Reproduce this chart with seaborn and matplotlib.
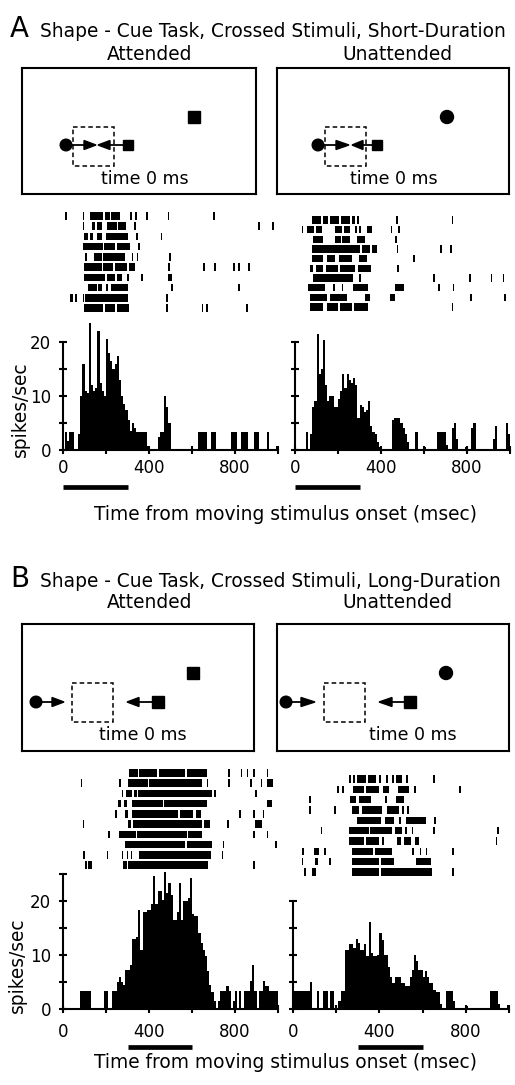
import numpy as np
import pandas as pd
import matplotlib
matplotlib.use("Agg")
import matplotlib.pyplot as plt
import seaborn as sns
from matplotlib.patches import Rectangle, Circle, Polygon

# ---------------- DATA ----------------
BIN_MS = 10
# PSTH rates (spikes/sec) per 10 ms bin, 0..1000 ms
A_att_rate = [0, 3.3, 1.7, 3.3, 3.3, 0, 0, 3, 10, 16,
              11, 10.5, 23.5, 12, 11, 11.5, 22, 12.5, 11, 10,
              20.5, 18, 16.5, 15, 16, 17.5, 13, 10, 8.5, 7.5,
              5.5, 3.6, 5, 4, 3.3, 3.3, 3.3, 3.3, 3.3, 0.8,
              0, 0, 0, 0, 2.5, 3.3, 3.3, 10, 8, 5,
              0, 0, 0, 0, 0, 0, 0, 0, 0, 0,
              0, 0, 0, 3.3, 3.3, 3.3, 3.3, 0, 0, 3.3,
              3.3, 0, 0, 0, 0, 0, 0, 0, 3.3, 3.3,
              3.3, 0, 0, 3.3, 3.3, 3.3, 0, 0, 0, 3.3,
              3.3, 0, 0, 0, 0, 3.3, 0, 0, 0, 0.8]
A_unatt_rate = [0, 0, 0, 0, 0, 3.3, 0, 3, 8, 9,
                21.5, 14, 15, 20.3, 12, 9, 10, 10, 8, 8,
                9.5, 11, 14, 11.5, 14, 13, 12.4, 13.3, 12, 6,
                8.3, 8, 7, 7.5, 9, 4.5, 3.3, 3, 1.5, 0.5,
                0, 0, 0, 0, 0, 5.5, 6, 6, 6, 5,
                4, 3, 1.5, 0, 0, 0, 3.3, 0, 0, 0,
                0.6, 0, 0, 0, 0, 0, 3.3, 3.3, 3.3, 3.3,
                1, 0, 0, 4, 5, 2, 0, 0, 0, 0.6,
                0, 0, 4, 5, 0, 0, 0, 0, 0, 0,
                0, 0, 2, 4.5, 0, 0, 0, 0, 5, 3]
B_att_rate = [0, 0, 0, 0, 0, 0, 0, 0, 3.3, 3.3,
              3.3, 3.3, 3.3, 0, 0, 0, 0, 0, 0, 3.3,
              3.3, 0, 0, 3.3, 3.3, 5, 6, 5, 4.5, 7.3,
              7.3, 8.2, 13, 13, 13.4, 18.4, 11, 18, 18, 18.3,
              18.3, 19.5, 24.6, 19.5, 21.8, 21.8, 20.2, 25.3, 21.5, 23.3,
              21.2, 16.5, 16.5, 18, 23.3, 16.5, 20, 20, 20.6, 24.3,
              17.5, 17.2, 17.2, 14, 12.2, 11, 9.8, 7, 4.5, 3.1,
              1.4, 0, 1.5, 3.3, 3.3, 3.3, 4.2, 3.3, 0, 1.5,
              3.3, 0, 3.3, 0, 3.3, 3.3, 3.3, 5.1, 8.2, 3.3,
              0, 3.3, 3.3, 5.1, 4.2, 4.2, 3.3, 3.3, 3.3, 3.3]
B_unatt_rate = [3.3, 3.3, 3.3, 3.3, 3.3, 3.3, 3.3, 3.3, 5, 0,
                0, 3.3, 0, 0, 3.3, 3.3, 0, 3.3, 3.3, 0,
                0, 1.5, 3.3, 3.3, 11, 11, 12, 12, 11.3, 13,
                12.2, 11, 11, 12, 9.8, 16.1, 10.4, 9.8, 9.8, 10,
                14, 12.8, 10, 10, 7.7, 5.9, 4.8, 6, 6, 6,
                4.8, 4.8, 4.2, 4.2, 6, 7.3, 10, 8.8, 7.3, 7.3,
                6, 7.1, 6, 4.8, 4.8, 3.5, 3.1, 3.1, 1, 0,
                0, 3.3, 3.3, 3.3, 1.5, 0, 0, 0, 0, 0,
                0.5, 0, 0, 0, 0, 0, 0, 0, 0, 0,
                0, 3.3, 3.3, 3.3, 3.3, 1, 0, 0, 0, 0.8]

# Rasters: per trial, runs of spikes [first_ms, last_ms] (single spike: first == last)
A_att_raster = [
    [[9, 9], [91, 91], [126, 188], [195, 219], [223, 265], [312, 312], [335, 335], [386, 386], [487, 487], [699, 699]],
    [[91, 91], [133, 149], [156, 180], [203, 250], [257, 293], [330, 330], [908, 908], [974, 974]],
    [[99, 118], [126, 141], [156, 180], [198, 304], [340, 340], [454, 454]],
    [[91, 184], [191, 242], [253, 312], [350, 350]],
    [[102, 102], [144, 180], [188, 288], [319, 319], [343, 343], [495, 495]],
    [[98, 180], [184, 234], [242, 296], [309, 335], [490, 490], [653, 653], [702, 702], [792, 792], [816, 816], [862, 862]],
    [[98, 195], [203, 242], [253, 273], [299, 299], [363, 363], [490, 505]],
    [[115, 156], [164, 180], [200, 211], [223, 304], [502, 502], [816, 816]],
    [[33, 33], [40, 40], [56, 56], [91, 91], [102, 304], [479, 479]],
    [[99, 188], [195, 242], [250, 309], [479, 479], [645, 645], [665, 665], [851, 851]],
]
A_unatt_raster = [
    [[78, 120], [128, 155], [163, 206], [212, 256], [264, 279], [290, 290], [470, 470], [729, 729]],
    [[31, 31], [54, 90], [98, 124], [186, 220], [228, 256], [279, 279], [299, 299], [336, 357], [445, 445], [481, 481]],
    [[85, 132], [186, 212], [220, 256], [287, 326], [465, 465]],
    [[78, 302], [310, 350], [358, 380], [473, 473], [674, 674], [721, 721]],
    [[78, 132], [147, 186], [206, 264], [298, 333], [550, 550]],
    [[70, 82], [98, 132], [144, 200], [208, 279], [295, 352], [476, 476]],
    [[85, 271], [299, 299], [643, 643], [811, 811], [910, 910], [966, 966]],
    [[62, 140], [178, 178], [217, 217], [268, 341], [465, 507], [667, 667], [733, 733]],
    [[70, 147], [163, 240], [326, 349], [442, 465], [814, 814], [972, 972]],
    [[70, 132], [147, 200], [208, 264], [274, 341], [729, 729]],
]
B_att_raster = [
    [[309, 350], [355, 439], [448, 567], [575, 668], [769, 769], [826, 826], [854, 854], [885, 885], [947, 947]],
    [[82, 82], [262, 262], [304, 397], [401, 645], [668, 668], [769, 769], [870, 870], [919, 919], [947, 978]],
    [[273, 273], [293, 319], [330, 343], [350, 691], [702, 702], [893, 893]],
    [[257, 268], [284, 296], [319, 467], [471, 668], [947, 971]],
    [[242, 242], [288, 304], [319, 536], [544, 606], [619, 640], [820, 820], [885, 885], [929, 929]],
    [[91, 91], [304, 315], [324, 645], [656, 684], [764, 764], [893, 924]],
    [[211, 211], [262, 340], [346, 575], [583, 645], [885, 885], [947, 947]],
    [[288, 567], [575, 692], [743, 743], [986, 986]],
    [[95, 95], [203, 203], [273, 273], [296, 296], [315, 315], [355, 687], [738, 738]],
    [[102, 102], [117, 133], [278, 296], [304, 676], [885, 885]],
]
B_unatt_raster = [
    [[259, 259], [278, 278], [298, 340], [348, 383], [398, 398], [432, 432], [460, 460], [478, 506], [525, 525], [648, 648]],
    [[205, 205], [228, 228], [278, 330], [338, 398], [417, 444], [488, 537], [560, 560], [769, 769]],
    [[74, 74], [264, 290], [306, 360], [426, 426], [475, 514]],
    [[74, 74], [190, 190], [275, 306], [318, 413], [437, 491], [506, 506], [529, 529]],
    [[298, 406], [426, 468], [491, 491], [522, 614], [653, 653]],
    [[128, 128], [259, 350], [358, 460], [472, 506], [519, 519], [549, 549], [648, 648], [946, 946]],
    [[259, 330], [338, 398], [413, 413], [480, 500], [515, 545], [565, 583], [938, 938]],
    [[43, 43], [97, 120], [144, 144], [275, 370], [378, 460], [552, 552], [586, 586], [614, 614], [738, 738]],
    [[40, 40], [102, 116], [167, 167], [275, 400], [408, 468], [568, 637]],
    [[51, 51], [89, 105], [275, 400], [408, 645], [738, 738]],
]

# Stimulus motion periods (ms)
A_stim = [0, 300]
B_stim = [300, 600]

title_A = "Shape - Cue Task, Crossed Stimuli, Short-Duration"
title_B = "Shape - Cue Task, Crossed Stimuli, Long-Duration"
cond_labels = ["Attended", "Unattended"]
xlab = "Time from moving stimulus onset (msec)"
ylab = "spikes/sec"
xtick_vals = [0, 200, 400, 600, 800, 1000]
xtick_text = ["0", "", "400", "", "800", ""]

# ---------------- LAYOUT ----------------
W, H = 515, 1085
sns.set_theme(style="white")
plt.rcParams['font.family'] = ['DejaVu Sans']
for k in ['text.color', 'axes.labelcolor', 'xtick.color', 'ytick.color', 'axes.edgecolor']:
    plt.rcParams[k] = 'black'

fig = plt.figure(figsize=(W / 100, H / 100), dpi=100)
fig.patch.set_facecolor('white')


def add_ax(l, t, r, b):
    ax = fig.add_axes([l / W, 1 - b / H, (r - l) / W, (b - t) / H])
    ax.patch.set_alpha(0)
    return ax


def ftext(x, y, s, **kw):
    fig.text(x / W, 1 - y / H, s, **kw)


centers = np.arange(BIN_MS / 2, 1000, BIN_MS)
PX_PER_UNIT = 5.4


def draw_psth(rates, l, r, b, ytop, spine_top, yticks, stim, stim_y, label_y, ylabels=True):
    t = b - ytop * PX_PER_UNIT
    ax = add_ax(l, t, r, b)
    df = pd.DataFrame({'t': centers, 'rate': np.asarray(rates, dtype=float)})
    sns.histplot(data=df, x='t', weights='rate', binwidth=BIN_MS, binrange=(0, 1000),
                 element='step', fill=True, color='black', alpha=1, linewidth=0, ax=ax)
    ax.set_xlim(0, 1000)
    ax.set_ylim(0, ytop)
    ax.set_xlabel('')
    ax.set_ylabel('')
    for s in ['top', 'right']:
        ax.spines[s].set_visible(False)
    for s in ['left', 'bottom']:
        ax.spines[s].set_visible(True)
        ax.spines[s].set_linewidth(1.5)
        ax.spines[s].set_color('black')
    ax.spines['left'].set_bounds(0, spine_top)
    ax.spines['bottom'].set_bounds(0, 1000)
    ax.set_yticks(yticks)
    if ylabels:
        ax.set_yticklabels([str(v) if v % 10 == 0 else '' for v in yticks])
    else:
        ax.set_yticklabels(['' for v in yticks])
    ax.set_xticks(xtick_vals)
    ax.set_xticklabels(['' for v in xtick_vals])
    ax.tick_params(axis='both', direction='inout', length=6, width=1.5,
                   labelsize=12, bottom=True, left=True, colors='black')
    ax.tick_params(axis='y', pad=5.5)
    # x tick labels placed on the figure at the tick positions
    for v, s in zip(xtick_vals, xtick_text):
        if s:
            px = l + (r - l) * v / 1000.0
            ftext(px, label_y, s, ha='center', va='center', fontsize=12, zorder=100)
    yf = (b - stim_y) / (b - t)
    ax.plot(stim, [yf, yf], transform=ax.get_xaxis_transform(), color='black',
            lw=3.4, solid_capstyle='butt', clip_on=False)
    return ax


def draw_raster(trials, l, r, row_first, row_last):
    n = len(trials)
    sp = (row_last - row_first) / (n - 1)
    ax = add_ax(l, row_first - sp / 2, r, row_last + sp / 2)
    for i, tr in enumerate(trials):
        segs = [(s, max(e - s, 8)) for s, e in tr]
        ax.broken_barh(segs, (i + 1 - 0.37, 0.74), facecolors='black', edgecolors='none')
    ax.set_xlim(0, 1000)
    ax.set_ylim(n + 0.5, 0.5)
    ax.axis('off')


def draw_box(box, circ_x, y, rhead, lhead, sq_x, sq_size, dash, target, target_xy, text_xy):
    l, t, r, b = box
    ax = add_ax(l, t, r, b)
    ax.set_xlim(l, r)
    ax.set_ylim(b, t)
    ax.set_xticks([])
    ax.set_yticks([])
    for s in ax.spines.values():
        s.set_visible(True)
        s.set_linewidth(1.5)
        s.set_color('black')
    k = 'black'
    ax.add_patch(Circle((circ_x, y), 5.8, color=k))
    ax.plot([circ_x, rhead[0]], [y, y], color=k, lw=1.3)
    ax.add_patch(Polygon([(rhead[0], y - 4.5), (rhead[0], y + 4.5), (rhead[1], y)], color=k))
    ax.add_patch(Polygon([(lhead[1], y - 4.5), (lhead[1], y + 4.5), (lhead[0], y)], color=k))
    ax.plot([lhead[1], sq_x], [y, y], color=k, lw=1.3)
    ax.add_patch(Rectangle((sq_x - sq_size / 2, y - sq_size / 2), sq_size, sq_size, color=k))
    dl, dt, dr, db = dash
    ax.add_patch(Rectangle((dl, dt), dr - dl, db - dt, fill=False, ec=k, lw=1.1,
                           ls=(0, (3, 2))))
    tx, ty = target_xy
    if target == 'square':
        ax.add_patch(Rectangle((tx - 6, ty - 6), 12, 12, color=k))
    else:
        ax.add_patch(Circle((tx, ty), 6.5, color=k))
    ax.text(text_xy[0], text_xy[1], "time 0 ms", ha='center', va='center', fontsize=12.5)


# ---------- Panel A ----------
ftext(10, 37, "A", fontsize=20, va='baseline')
ftext(40, 37, title_A, fontsize=13.4, va='baseline')
ftext(150, 55, cond_labels[0], fontsize=13.4, ha='center', va='center')
ftext(397, 55, cond_labels[1], fontsize=13.4, ha='center', va='center')

draw_box((22, 68, 256, 194), 66, 145, (84, 96), (98, 110), 128, 10,
         (73, 127, 114, 166), 'square', (194, 117), (145, 179))
draw_box((277, 68, 509, 194), 318, 145, (336, 349), (352, 363), 377, 10,
         (325, 127, 366, 166), 'circle', (447, 117), (394, 179))

draw_raster(A_att_raster, 63, 278, 216, 308)
draw_raster(A_unatt_raster, 295, 510, 220, 307)

draw_psth(A_att_rate, 63, 278, 450, 25, 20, [0, 5, 10, 15, 20], A_stim, 487, 468)
draw_psth(A_unatt_rate, 295, 510, 450, 25, 20, [0, 5, 10, 15, 20], A_stim, 487, 468, ylabels=False)
ftext(20, 409, ylab, fontsize=13.4, rotation=90, ha='center', va='center')
ftext(286, 514, xlab, fontsize=13.4, ha='center', va='center')

# ---------- Panel B ----------
ftext(10, 587, "B", fontsize=20, va='baseline')
ftext(40, 587, title_B, fontsize=13.4, va='baseline')
ftext(150, 602, cond_labels[0], fontsize=13.4, ha='center', va='center')
ftext(397, 602, cond_labels[1], fontsize=13.4, ha='center', va='center')

draw_box((22, 624, 254, 751), 36, 702, (52, 64), (127, 139), 158, 12,
         (72, 683, 113, 722), 'square', (193, 673), (143, 735))
draw_box((277, 624, 509, 751), 286, 702, (301, 315), (379, 392), 410, 12,
         (324, 683, 365, 722), 'circle', (446, 673), (413, 735))

draw_raster(B_att_raster, 63, 278, 773, 865)
draw_raster(B_unatt_raster, 293, 509, 779, 872)

draw_psth(B_att_rate, 63, 278, 1009, 26, 25, [0, 5, 10, 15, 20, 25], B_stim, 1047, 1032)
draw_psth(B_unatt_rate, 293, 509, 1009, 26, 20, [0, 5, 10, 15, 20], B_stim, 1047, 1032, ylabels=False)
ftext(17, 965, ylab, fontsize=13.4, rotation=90, ha='center', va='center')
ftext(286, 1063, xlab, fontsize=13.4, ha='center', va='center')

fig.savefig("out.png", dpi=100, facecolor='white')
